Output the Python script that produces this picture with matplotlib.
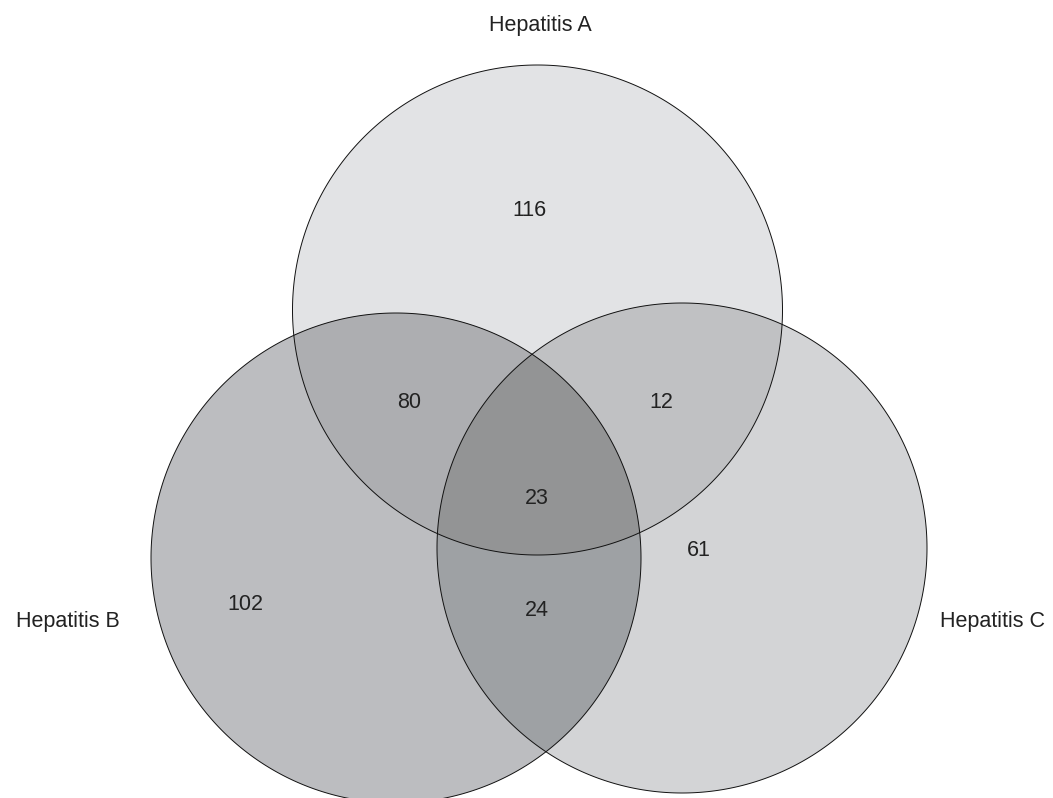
import numpy
from matplotlib import pyplot
from matplotlib.patches import Polygon

pyplot.rcParams['font.family'] = ['Liberation Sans', 'DejaVu Sans']

# data
setNames = ["Hepatitis A", "Hepatitis B", "Hepatitis C"]
regionKeys = ["A", "B", "C", "AB", "AC", "BC", "ABC"]
regionCounts = [116, 102, 61, 80, 12, 24, 23]

# layout (pixel coords, y down)
centers = {"A": (537.5, 310.0), "B": (396.0, 558.0), "C": (682.0, 548.0)}
radius = 245.0
countPos = {"A": (529, 210), "B": (245, 604), "C": (699, 551),
            "AB": (409, 402), "AC": (661, 402), "BC": (537, 610),
            "ABC": (537, 498)}
namePos = [(540, 25), (68, 622), (993, 622)]
regionColors = {"A": "#e2e3e5", "B": "#bcbdc0", "C": "#d3d4d6",
                "AB": "#adaeb1", "AC": "#c0c1c3", "BC": "#9ea1a4",
                "ABC": "#939495"}


def circlePoly(c, r, n=720):
    t = numpy.linspace(0, 2*numpy.pi, n, endpoint=False)
    return numpy.column_stack([c[0] + r*numpy.cos(t), c[1] + r*numpy.sin(t)])


def clipConvex(subject, clip):
    # Sutherland-Hodgman, both polygons convex
    def inside(p, a, b):
        return (b[0]-a[0])*(p[1]-a[1]) - (b[1]-a[1])*(p[0]-a[0]) >= 0

    def cross(p1, p2, a, b):
        d1 = p2 - p1
        d2 = b - a
        den = d1[0]*d2[1] - d1[1]*d2[0]
        s = ((a[0]-p1[0])*d2[1] - (a[1]-p1[1])*d2[0]) / den
        return p1 + s*d1

    out = list(subject)
    for i in range(len(clip)):
        a, b = clip[i-1], clip[i]
        inp = out
        out = []
        if not inp:
            break
        prev = inp[-1]
        for cur in inp:
            if inside(cur, a, b):
                if not inside(prev, a, b):
                    out.append(cross(prev, cur, a, b))
                out.append(cur)
            elif inside(prev, a, b):
                out.append(cross(prev, cur, a, b))
            prev = cur
    return numpy.array(out)


fig = pyplot.figure(figsize=(10.53, 7.98), dpi=100)
ax = fig.add_axes([0, 0, 1, 1])
ax.set_xlim(0, 1053)
ax.set_ylim(798, 0)
ax.set_aspect('equal')
ax.axis('off')

polys = {k: circlePoly(centers[k], radius) for k in "ABC"}

for key in regionKeys:
    poly = polys[key[0]]
    for other in key[1:]:
        poly = clipConvex(poly, polys[other])
    ax.add_patch(Polygon(poly, closed=True, facecolor=regionColors[key],
                         edgecolor='none', zorder=1))

for k in "ABC":
    ax.add_patch(Polygon(polys[k], closed=True, fill=False,
                         edgecolor='#111111', lw=0.7, zorder=2))

for key, n in zip(regionKeys, regionCounts):
    x, y = countPos[key]
    ax.text(x, y, str(n), ha='center', va='center', fontsize=15.5,
            color='#222222', zorder=3)

for name, (x, y) in zip(setNames, namePos):
    ax.text(x, y, name, ha='center', va='center', fontsize=15.5,
            color='#222222', zorder=3)

pyplot.savefig("out.png", dpi=100, facecolor='white')
